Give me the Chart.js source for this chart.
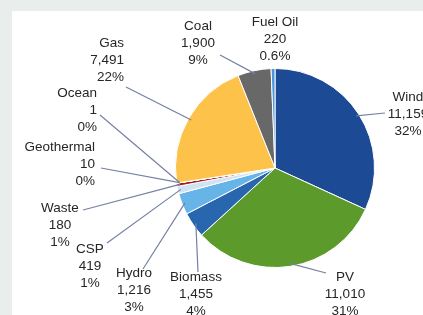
<!DOCTYPE html>
<html>
<head>
<meta charset="utf-8">
<script src="https://cdn.jsdelivr.net/npm/chart.js@4.4.0/dist/chart.umd.min.js"></script>
<style>
  html, body { margin: 0; padding: 0; }
  body { width: 423px; height: 315px; background: #e9eeec; position: relative; overflow: hidden; }
  #panel { position: absolute; left: 12px; top: 11px; right: 0; bottom: 0; background: #ffffff; }
  #c { position: absolute; left: 0; top: 0; }
</style>
</head>
<body>
<div id="panel"></div>
<canvas id="c" width="423" height="315"></canvas>
<script>
// ---- data ----
const categories = ['Wind', 'PV', 'Biomass', 'Hydro', 'CSP', 'Waste', 'Geothermal', 'Ocean', 'Gas', 'Coal', 'Fuel Oil'];
const capacities = [11159, 11010, 1455, 1216, 419, 180, 10, 1, 7491, 1900, 220];
const percentLabels = ['32%', '31%', '4%', '3%', '1%', '1%', '0%', '0%', '22%', '9%', '0.6%'];
const sliceColors = ['#1c4a94', '#5c9a2c', '#2866ae', '#66b4e8', '#cfe3f2', '#a11d22', '#d9534f', '#8fc3e6', '#fdc24a', '#686868', '#4a94e0'];

// ---- label layout (positions only) ----
const labelLayout = [
  { x: 408, y: 97,  align: 'center', lx: 385, ly: 113 },  // Wind
  { x: 345, y: 277, align: 'center', lx: 326, ly: 273 },  // PV
  { x: 196, y: 277, align: 'center', lx: 198, ly: 272 },  // Biomass
  { x: 134, y: 273, align: 'center', lx: 143, ly: 269 },  // Hydro
  { x: 90,  y: 249, align: 'center', lx: 107, ly: 243 },  // CSP
  { x: 60,  y: 208, align: 'center', lx: 83,  ly: 210 },  // Waste
  { x: 95,  y: 147, align: 'right',  lx: 101, ly: 168 },  // Geothermal
  { x: 97,  y: 93,  align: 'right',  lx: 100, ly: 115 },  // Ocean
  { x: 124, y: 43,  align: 'right',  lx: 126, ly: 87 },   // Gas
  { x: 198, y: 26,  align: 'center', lx: 220, ly: 55 },   // Coal
  { x: 275, y: 22,  align: 'center', lx: null, ly: null } // Fuel Oil
];
const lineStep = 17;

const labelPlugin = {
  id: 'calloutLabels',
  afterDatasetsDraw(chart) {
    const ctx = chart.ctx;
    const meta = chart.getDatasetMeta(0);
    ctx.save();
    meta.data.forEach((arc, i) => {
      const L = labelLayout[i];
      const mid = (arc.startAngle + arc.endAngle) / 2;
      const r = arc.outerRadius * 0.97;
      const px = arc.x + Math.cos(mid) * r;
      const py = arc.y + Math.sin(mid) * r;
      if (L.lx !== null) {
        ctx.strokeStyle = '#7581a3';
        ctx.lineWidth = 1.2;
        ctx.beginPath();
        ctx.moveTo(L.lx, L.ly);
        ctx.lineTo(px, py);
        ctx.stroke();
      }
      ctx.fillStyle = '#262626';
      ctx.font = '13.5px "Liberation Sans", Arial, sans-serif';
      ctx.textAlign = L.align;
      ctx.textBaseline = 'middle';
      const lines = [categories[i], capacities[i].toLocaleString('en-US'), percentLabels[i]];
      lines.forEach((t, k) => ctx.fillText(t, L.x, L.y + k * lineStep));
    });
    ctx.restore();
  }
};

new Chart(document.getElementById('c'), {
  type: 'pie',
  data: {
    labels: categories,
    datasets: [{
      data: capacities,
      backgroundColor: sliceColors,
      borderColor: '#ffffff',
      borderWidth: 1
    }]
  },
  options: {
    responsive: false,
    animation: false,
    devicePixelRatio: 1,
    layout: { padding: { left: 175, right: 48, top: 68, bottom: 47 } },
    plugins: { legend: { display: false }, tooltip: { enabled: false } }
  },
  plugins: [labelPlugin]
});
</script>
</body>
</html>
